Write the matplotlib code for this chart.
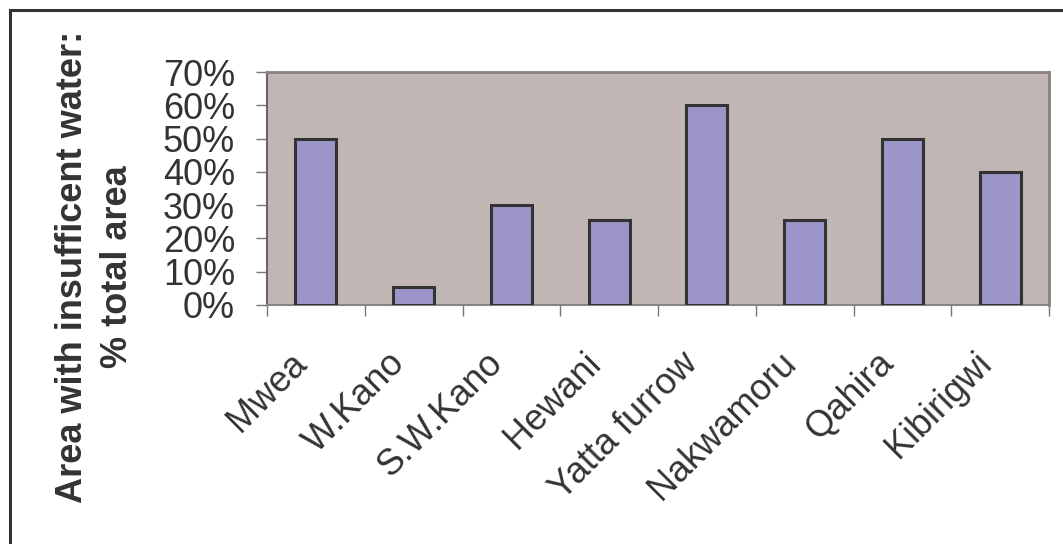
import numpy as np
import matplotlib.pyplot as plt
import matplotlib.transforms as mtransforms
from matplotlib.patches import Rectangle

# --- Data ---
schemes = ['Mwea', 'W.Kano', 'S.W.Kano', 'Hewani', 'Yatta furrow',
           'Nakwamoru', 'Qahira', 'Kibirigwi']
insufficient_pct = [50, 5.5, 30, 25.5, 60, 25.5, 50, 40]
y_ticks = [0, 10, 20, 30, 40, 50, 60, 70]

TEXT = '#333333'
plt.rcParams['font.family'] = ['Liberation Sans', 'DejaVu Sans']


def main():
    fig = plt.figure(figsize=(10.63, 5.44), dpi=100)
    W, H = 1063, 544

    # outer frame around the chart (runs off the right and bottom edges)
    fig.patches.append(Rectangle((10 / W, -0.1), 1.2, 1 - 10 / H + 0.1,
                                 transform=fig.transFigure, fill=False,
                                 edgecolor='#333333', linewidth=2.2))

    ax = fig.add_axes([267 / W, 1 - 305 / H, (1049 - 267) / W, (305 - 72) / H])
    ax.set_facecolor('#C0B7B4')

    x = np.arange(len(schemes))
    ax.bar(x, insufficient_pct, width=0.42, color='#9B95C9',
           edgecolor='#333333', linewidth=2.2, zorder=3)

    ax.set_xlim(-0.5, len(schemes) - 0.5)
    ax.set_ylim(0, 70)

    # y axis
    ax.set_yticks(y_ticks)
    ax.set_yticklabels([f'{t}%' for t in y_ticks])
    ax.tick_params(axis='y', length=8, width=1, color='#777777',
                   labelsize=26, labelcolor=TEXT, pad=15)

    # x axis: labels at centres, tick marks at category boundaries
    ax.set_xticks(x)
    ax.set_xticklabels(schemes, rotation=45, ha='right', va='center',
                       rotation_mode='anchor')
    ax.tick_params(axis='x', which='major', length=0, labelsize=26,
                   labelcolor=TEXT, pad=38)
    shift = mtransforms.ScaledTranslation(-14 / 100, 0, fig.dpi_scale_trans)
    for lbl in ax.get_xticklabels():
        lbl.set_transform(lbl.get_transform() + shift)
    ax.set_xticks(np.arange(-0.5, len(schemes)), minor=True)
    ax.tick_params(axis='x', which='minor', length=8, width=1,
                   color='#777777')

    for side in ['top', 'right']:
        ax.spines[side].set_color('#8C807D')
        ax.spines[side].set_linewidth(2)
    ax.spines['left'].set_color('#6E6464')
    ax.spines['left'].set_linewidth(1.5)
    ax.spines['bottom'].set_color('#8C8482')
    ax.spines['bottom'].set_linewidth(1.5)

    fig.text(95 / W, 1 - 267 / H, 'Area with insufficent water:\n% total area',
             rotation=90, ha='center', va='center', multialignment='center',
             fontsize=26, fontweight='bold', color=TEXT, linespacing=1.4)

    fig.savefig('out.png', dpi=100, facecolor='white')


if __name__ == '__main__':
    main()
